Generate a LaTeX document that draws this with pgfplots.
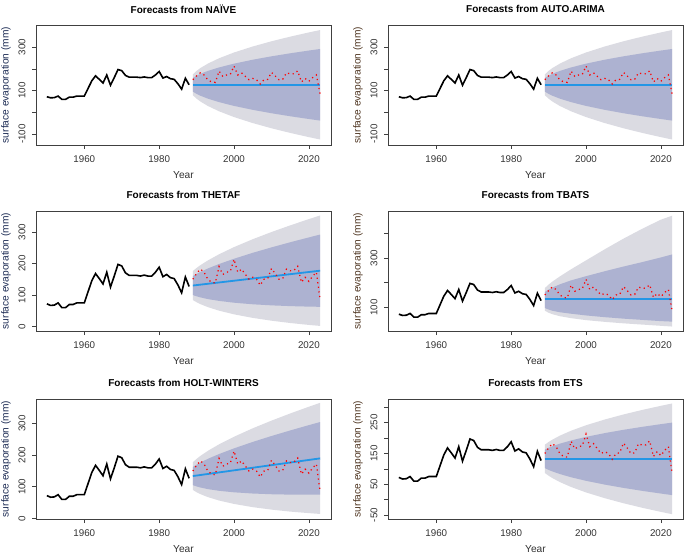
\documentclass[border=0pt]{standalone}
\usepackage{fontspec}
\setmainfont{Liberation Sans}
\usepackage{pgfplots}
\pgfplotsset{compat=1.18}
\usepackage{pgfplotstable}

\definecolor{band95}{RGB}{219,219,226}
\definecolor{band80}{RGB}{173,178,209}
\definecolor{fcblue}{RGB}{35,150,230}
\definecolor{labblue}{RGB}{30,45,85}
\definecolor{labbrown}{RGB}{80,55,35}

% observed series up to 1988
\pgfplotstableread{
year val
1950 72
1951 67
1952 68
1953 75
1954 60
1955 60
1956 70
1957 70
1958 75
1959 75
1960 75
1961 110
1962 145
1963 168
1964 152
1965 135
1966 172
1967 125
1968 160
1969 197
1970 192
1971 170
1972 162
1973 162
1974 162
1975 160
1976 163
1977 160
1978 160
1979 172
1980 188
1981 158
1982 165
1983 155
1984 152
1985 132
1986 107
1987 157
1988 127
}\hist

% held-out values 1989-2023
\pgfplotstableread{
year val
1989 150
1990 168
1991 182
1992 172
1993 150
1994 140
1995 138
1996 190
1997 165
1998 172
1999 175
2000 213
2001 172
2002 182
2003 166
2004 150
2005 156
2006 150
2007 131
2008 150
2009 152
2010 184
2011 168
2012 150
2013 152
2014 182
2015 177
2016 178
2017 191
2018 140
2019 156
2020 143
2021 160
2022 172
2023 84
}\actual

% point forecasts
\pgfplotstableread{
year mnaive mtheta mtbats mholt mets
1989 127 130 132.2 134 132.5
2023 127 177 132.2 190 132.5
}\fcmean

% interval polygons: upper bound forwards, lower bound backwards
\pgfplotstableread{
x p95 p80
1989 175 158.4
1990 191 168.9
1991 203.8 177.2
1993 224.4 190.7
1996 249 206.8
2000 275.6 224.2
2005 303.2 242.3
2010 327.1 257.9
2015 348.4 271.8
2020 367.9 284.5
2023 378.8 291.7
2023 -124.8 -37.7
2020 -113.9 -30.5
2015 -94.4 -17.8
2010 -73.1 -3.9
2005 -49.2 11.7
2000 -21.6 29.8
1996 5 47.2
1993 29.6 63.3
1991 50.2 76.8
1990 63 85.1
1989 79 95.6
}\naive

\pgfplotstableread{
x p95 p80
1989 176 160.1
1990 185.7 166.9
1991 194.4 173.1
1993 209.4 183.9
1996 229 198.1
2000 251.7 214.8
2005 276.7 233.6
2010 299.4 250.8
2015 320.5 267.0
2020 340.4 282.4
2023 351.9 291.4
2023 2.1 62.6
2020 5.2 63.2
2015 11.3 64.8
2010 18.6 67.2
2005 27.5 70.6
2000 38.7 75.6
1996 50.4 81.3
1993 61.6 87.1
1991 71.2 92.5
1990 77.1 95.9
1989 84 99.9
}\thetaf

\pgfplotstableread{
x p95 p80
1989 178 162
1990 192 172
1991 204 180
1993 225 193
1996 254 209
2000 290 226
2005 335 246
2010 378 265
2015 418 283
2020 455 302
2023 471 314
2023 22 42
2020 25 44
2015 30 49
2010 35 54
2005 41 60
2000 48 67
1996 56 74
1993 64 80
1991 72 86
1990 78 91
1989 86 97
}\tbats

\pgfplotstableread{
x p95 p80
1989 178 162.8
1990 188.4 170.1
1991 197.7 176.8
1993 213.8 188.5
1996 234.5 203.7
2000 258.5 221.7
2005 285.3 242.1
2010 309.5 260.8
2015 332.2 278.4
2020 353.6 295.3
2023 366 305.1
2023 14 74.9
2020 16.6 74.9
2015 21.4 75.2
2010 27.7 76.4
2005 35.5 78.7
2000 45.7 82.5
1996 56.5 87.3
1993 67.4 92.7
1991 76.9 97.8
1990 82.8 101.1
1989 90 105.2
}\holt

\pgfplotstableread{
x p95 p80
1989 178.5 162.6
1990 187.3 168.4
1991 194.9 173.3
1993 207.9 181.8
1996 223.9 192.3
2000 241.7 203.9
2005 260.4 216.2
2010 276.8 226.9
2015 291.5 236.5
2020 304.9 245.3
2023 312.5 250.3
2023 -47.5 14.7
2020 -39.9 19.7
2015 -26.5 28.5
2010 -11.8 38.1
2005 4.6 48.8
2000 23.3 61.1
1996 41.1 72.7
1993 57.1 83.2
1991 70.1 91.7
1990 77.7 96.6
1989 86.5 102.4
}\ets

\pgfplotsset{
  rpanel/.style={
    scale only axis, width=295pt, height=120pt, anchor=south west,
    xmin=1947.1, xmax=2025.9,
    xtick={1960,1980,2000,2020}, xticklabels={1960,1980,2000,2020},
    axis line style={black!75, line width=0.6pt},
    xtick pos=bottom, ytick pos=left, tick align=outside,
    major tick length=4pt,
    every tick/.style={black!75, line width=0.6pt},
    tick label style={font=\fontsize{9.8}{11}\selectfont, text=black!80},
    xticklabel style={yshift=-3.5pt},
    yticklabel style={xshift=-3pt, rotate=90, anchor=south},
    xlabel={Year}, ylabel={surface evaporation (mm)},
    xlabel style={at={(axis description cs:0.5,-0.25)}, anchor=center,
      font=\fontsize{10.2}{12}\selectfont, text=black!80},
    ylabel style={at={(axis description cs:-0.1017,0.5)}, anchor=center,
      font=\fontsize{10.2}{12}\selectfont},
    title style={at={(axis description cs:0.5,1.142)}, anchor=center, yshift=-7pt,
      font=\bfseries\fontsize{10}{12}\selectfont},
  },
}

% fan, history, forecast and held-out values for one panel
\newcommand{\fan}[2]{%
  \addplot[fill=band95, draw=none] table[x=x,y=p95] {#1};
  \addplot[fill=band80, draw=none] table[x=x,y=p80] {#1};
  \addplot[black, line width=1.6pt] table[x=year,y=val] {\hist};
  \addplot[draw=fcblue, line width=1.8pt] table[x=year,y=#2] {\fcmean};
  \addplot[red, line width=1.25pt, dash pattern=on 1.2pt off 3.4pt] table[x=year,y=val] {\actual};
}

\begin{document}
\begin{tikzpicture}
\path[use as bounding box] (0,0) rectangle (685pt,555pt);

\begin{axis}[rpanel, at={(36pt,410pt)}, title={Forecasts from NAÏVE},
  ymin=-150, ymax=402, ytick={-100,0,100,200,300}, yticklabels={-100,,100,,300},
  ylabel style={text=labblue}]
\fan{\naive}{mnaive}
\end{axis}

\begin{axis}[rpanel, at={(388pt,410pt)}, title={Forecasts from AUTO.ARIMA},
  ymin=-150, ymax=402, ytick={-100,0,100,200,300}, yticklabels={-100,,100,,300},
  ylabel style={text=labbrown}]
\fan{\naive}{mnaive}
\end{axis}

\begin{axis}[rpanel, at={(36pt,224pt)}, title={Forecasts from THETAF},
  ymin=-14, ymax=366, ytick={0,100,200,300}, yticklabels={0,100,200,300},
  ylabel style={text=labblue}]
\fan{\thetaf}{mtheta}
\end{axis}

\begin{axis}[rpanel, at={(388pt,224pt)}, title={Forecasts from TBATS},
  ymin=4, ymax=490, ytick={100,200,300,400}, yticklabels={100,,300,},
  ylabel style={text=labbrown}]
\fan{\tbats}{mtbats}
\end{axis}

\begin{axis}[rpanel, at={(36pt,36pt)}, title={Forecasts from HOLT-WINTERS},
  ymin=-2, ymax=378, ytick={0,100,200,300}, yticklabels={0,100,200,300},
  ylabel style={text=labblue}]
\fan{\holt}{mholt}
\end{axis}

\begin{axis}[rpanel, at={(388pt,36pt)}, title={Forecasts from ETS},
  ymin=-63, ymax=327, ytick={-50,0,50,100,150,200,250,300},
  yticklabels={-50,,50,,150,,250,},
  ylabel style={text=labbrown}]
\fan{\ets}{mets}
\end{axis}
\end{tikzpicture}
\end{document}
